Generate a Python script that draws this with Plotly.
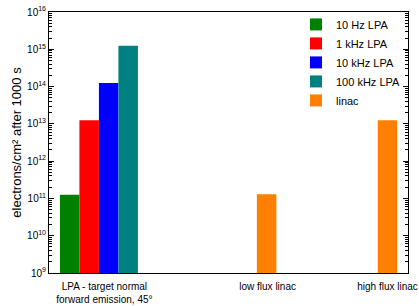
import plotly.graph_objects as go

# Data
lpa_names = ["10 Hz LPA", "1 kHz LPA", "10 kHz LPA", "100 kHz LPA"]
lpa_colors = ["#008000", "#FF0000", "#0000FF", "#008080"]
lpa_pos = [1, 2, 3, 4]
lpa_values = [1.25e11, 1.25e13, 1.25e14, 1.25e15]

linac_name = "linac"
linac_color = "#FF8000"
linac_pos = [11.1, 17.3]
linac_values = [1.3e11, 1.25e13]

cat_pos = [2.78, 11.15, 17.3]
cat_labels = ["LPA - target normal<br>forward emission, 45°", "low flux linac", "high flux linac"]

exponents = list(range(9, 17))
major_vals = [10.0 ** n for n in exponents]
major_text = ["10<sup>%d</sup>" % n for n in exponents]
minor_vals = [k * 10.0 ** n for n in range(9, 16) for k in range(2, 10)]

fig = go.Figure()
for name, col, p, v in zip(lpa_names, lpa_colors, lpa_pos, lpa_values):
    fig.add_trace(go.Bar(x=[p], y=[v], name=name, marker=dict(color=col, line=dict(width=0)),
                         width=1))
fig.add_trace(go.Bar(x=linac_pos, y=linac_values, name=linac_name,
                     marker=dict(color=linac_color, line=dict(width=0)), width=1))

font = "Liberation Sans, Arial, sans-serif"
fig.update_layout(
    width=419, height=306,
    margin=dict(l=49, r=11, t=10, b=33),
    paper_bgcolor="white", plot_bgcolor="white",
    font=dict(family=font, size=11, color="black"),
    barmode="overlay",
    showlegend=True,
    legend=dict(x=0.688, y=1.008, xanchor="left", yanchor="top",
                bgcolor="rgba(0,0,0,0)", font=dict(size=11),
                tracegroupgap=0, itemwidth=30),
    xaxis=dict(range=[-0.06, 18.35], tickmode="array", tickvals=cat_pos, ticktext=cat_labels,
               showline=True, linecolor="black", linewidth=1, mirror=True,
               ticks="", showgrid=False, zeroline=False, automargin=False,
               ticklabelstandoff=4, tickfont=dict(size=10)),
    yaxis=dict(type="log", range=[9, 16], tickmode="array", tickvals=major_vals, ticktext=major_text,
               showline=True, linecolor="black", linewidth=1, mirror="allticks",
               ticks="inside", ticklen=5, tickwidth=1, tickcolor="#000000",
               showgrid=False, zeroline=False, automargin=False, tickfont=dict(size=10),
               minor=dict(ticks="inside", ticklen=3, tickwidth=1, tickcolor="#000000",
                          tickmode="array", tickvals=minor_vals, showgrid=False),
               title=dict(text="electrons/cm² after 1000 s", font=dict(size=13), standoff=2)),
)
fig.write_html("out.html")
